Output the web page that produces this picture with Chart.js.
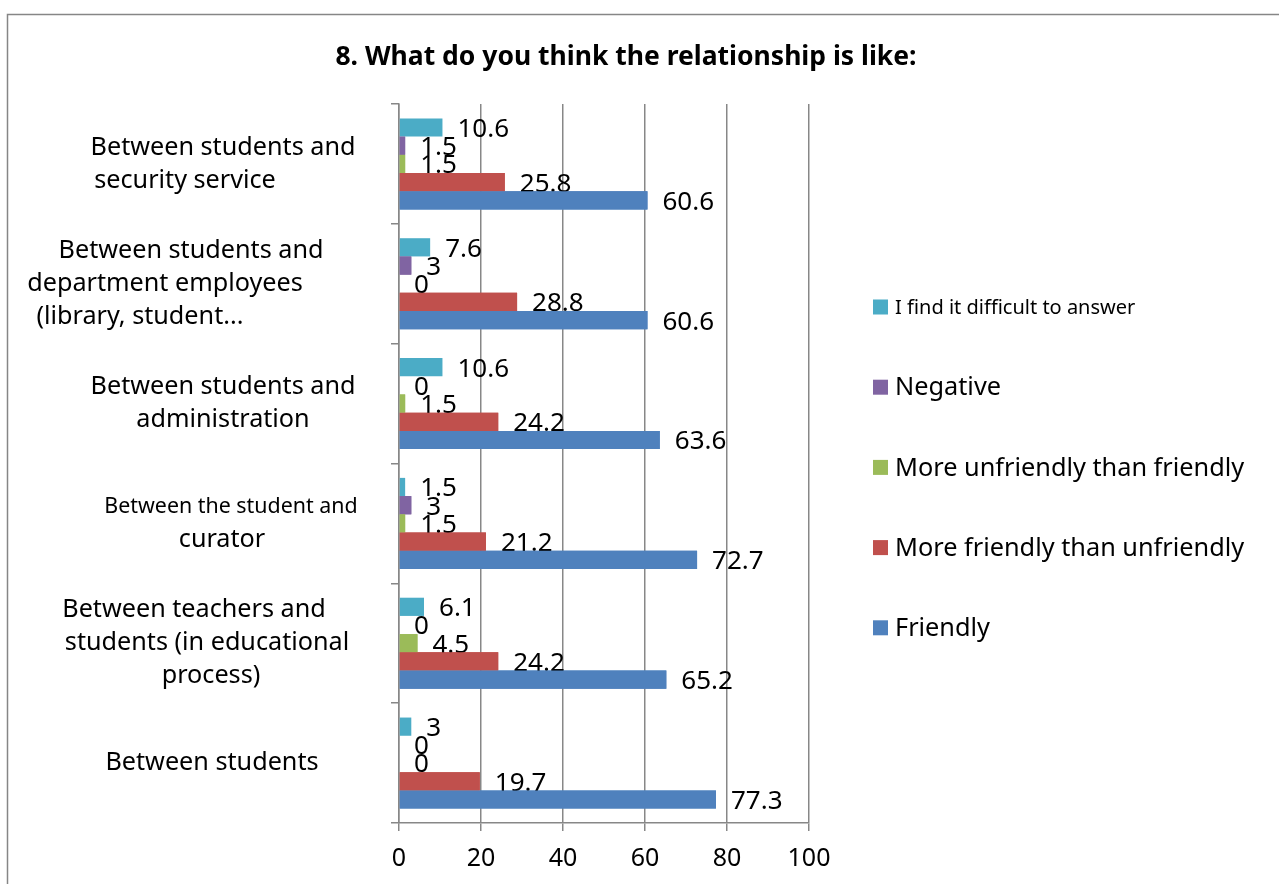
<!DOCTYPE html>
<html lang="en">
<head>
  <meta charset="UTF-8" />
  <title>8. What do you think the relationship is like:</title>
  <script src="https://cdn.jsdelivr.net/npm/chart.js"></script>
  <style>
    html, body { margin: 0; padding: 0; background: #fff; }
    #wrap { width: 1279px; height: 884px; }
  </style>
</head>
<body>
  <div id="wrap">
    <canvas id="grafico" width="1279" height="884"></canvas>
  </div>

<script>
  // categorias (de cima para baixo) e as linhas de cada rótulo
  const categorias = [
    ["Between students and", "security service"],
    ["Between students and", "department employees", "(library, student..."],
    ["Between students and", "administration"],
    ["Between the student and", "curator"],
    ["Between teachers and", "students (in educational", "process)"],
    ["Between students"]
  ];

  const series = [
    "I find it difficult to answer",
    "Negative",
    "More unfriendly than friendly",
    "More friendly than unfriendly",
    "Friendly"
  ];

  // valores em %, na mesma ordem das categorias
  const dificil      = [10.6, 7.6, 10.6, 1.5, 6.1, 3];
  const negativo     = [1.5, 3, 0, 3, 0, 0];
  const maisHostil   = [1.5, 0, 1.5, 1.5, 4.5, 0];
  const maisAmigavel = [25.8, 28.8, 24.2, 21.2, 24.2, 19.7];
  const amigavel     = [60.6, 60.6, 63.6, 72.7, 65.2, 77.3];

  const ticksX = [0, 20, 40, 60, 80, 100];

  const cores = ["#4BACC6", "#8064A2", "#9BBB59", "#C0504D", "#4F81BD"];
  const valores = [dificil, negativo, maisHostil, maisAmigavel, amigavel];

  // centro horizontal de cada linha dos rótulos do eixo Y
  const centrosRotulo = [[223, 185], [191, 165, 140], [223, 223], [231, 222], [194, 207, 211], [212]];
  const FONTE = "'Noto Sans', 'Open Sans', sans-serif";

  // moldura, título, rótulos do eixo Y e legenda
  const extras = {
    id: "extras",
    beforeDraw(chart) {
      const c = chart.ctx;
      c.save();
      c.fillStyle = "#fff";
      c.fillRect(0, 0, chart.width, chart.height);
      c.strokeStyle = "#868686";
      c.lineWidth = 1.5;
      c.strokeRect(7.5, 14.5, 1400, 1000);
      c.restore();
    },
    afterDraw(chart) {
      const c = chart.ctx;
      const y = chart.scales.y;
      c.save();
      c.fillStyle = "#000";
      c.textBaseline = "middle";

      c.textAlign = "center";
      c.font = "bold 26.5px " + FONTE;
      c.fillText("8. What do you think the relationship is like:", 626, 57);

      categorias.forEach((linhas, i) => {
        const meio = y.getPixelForValue(i);
        const alt = 33;
        const y0 = meio - (linhas.length - 1) * alt / 2;
        linhas.forEach((txt, j) => {
          const tam = txt === "Between the student and" ? 21.4 : 25.2;
          c.font = tam + "px " + FONTE;
          c.fillText(txt, centrosRotulo[i][j], y0 + j * alt);
        });
      });

      c.textAlign = "left";
      series.forEach((nome, i) => {
        const ly = 307 + i * 80.2;
        c.fillStyle = cores[i];
        c.fillRect(873, ly - 7.5, 15, 15);
        c.fillStyle = "#000";
        c.font = (i === 0 ? 20 : 25.3) + "px " + FONTE;
        c.fillText(nome, 895, ly + 1);
      });
      c.restore();
    }
  };

  // rótulos de valor: cada série é coberta pelas barras da série abaixo
  const rotulos = {
    id: "rotulos",
    afterDatasetsDraw(chart) {
      const c = chart.ctx;
      c.save();
      chart.data.datasets.forEach((ds, i) => {
        const meta = chart.getDatasetMeta(i);
        if (i > 0) meta.data.forEach(b => b.draw(c));
        c.fillStyle = "#000";
        c.font = "26px " + FONTE;
        c.textAlign = "left";
        c.textBaseline = "middle";
        meta.data.forEach((b, k) => {
          c.fillText(String(ds.data[k]), b.x + 15, b.y + 2);
        });
      });
      c.restore();
    }
  };

  new Chart(document.getElementById("grafico"), {
    type: "bar",
    data: {
      labels: categorias,
      datasets: series.map((nome, i) => ({
        label: nome,
        data: valores[i],
        backgroundColor: cores[i],
        borderWidth: 0,
        barPercentage: 1,
        categoryPercentage: 0.76
      }))
    },
    options: {
      responsive: false,
      animation: false,
      indexAxis: "y",
      layout: { padding: { left: 0, right: 470, top: 104, bottom: 0 } },
      scales: {
        x: {
          min: 0,
          max: 100,
          afterBuildTicks: s => { s.ticks = ticksX.map(v => ({ value: v })); },
          afterFit: s => { s.height = 884 - 823; },
          ticks: { color: "#000", font: { family: FONTE, size: 25 }, padding: 13 },
          grid: { color: "#878787", lineWidth: 1.5, tickLength: 8 },
          border: { color: "#878787", width: 1.5 }
        },
        y: {
          afterFit: s => { s.width = 399; },
          ticks: { display: false },
          grid: { drawOnChartArea: false, color: "#878787", lineWidth: 1.5, tickLength: 8, offset: true },
          border: { color: "#878787", width: 1.5 }
        }
      },
      plugins: {
        legend: { display: false },
        tooltip: { enabled: false }
      }
    },
    plugins: [extras, rotulos]
  });
</script>
</body>
</html>
